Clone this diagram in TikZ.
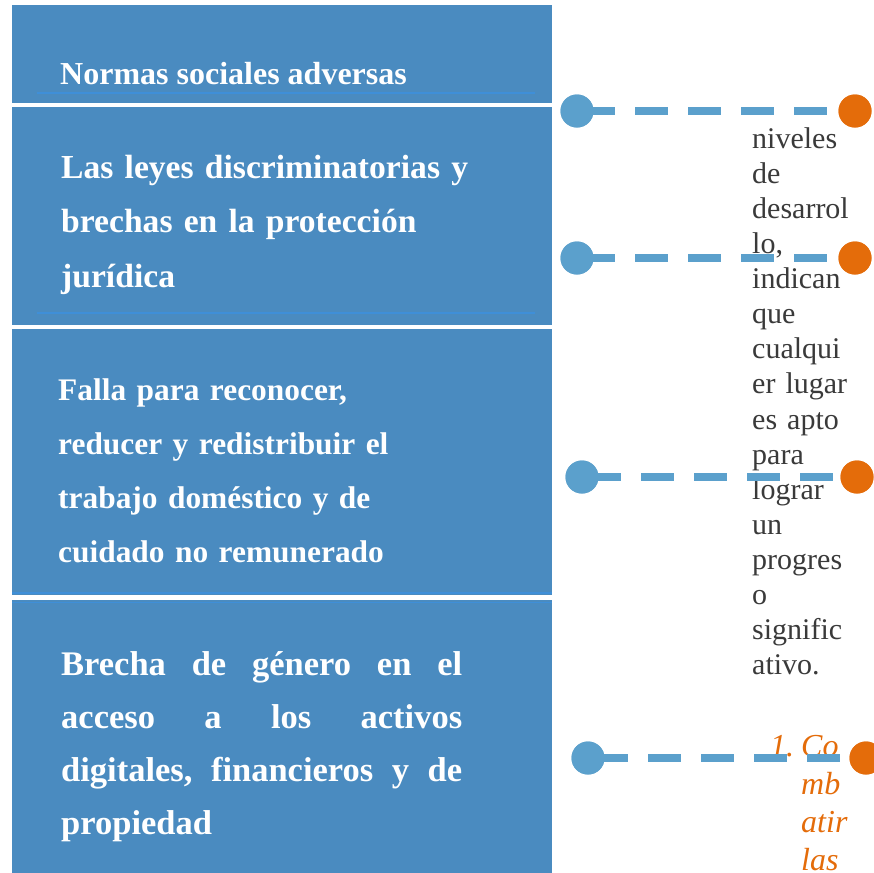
\documentclass[tikz,border=0pt]{standalone}
\usepackage{fontspec}
\setmainfont{Liberation Serif}
\newcommand{\jline}[1]{\leavevmode\hbox to 401pt{#1}}
\begin{document}
\begin{tikzpicture}[x=1pt,y=-1pt,
  boxblue/.style={fill=boxcol,draw=none,rectangle,anchor=north west,inner sep=0pt,minimum width=540pt},
  boxtext/.style={anchor=north west,inner sep=0pt,text=white,align=left},
  bluedot/.style={circle,fill=dotblue,draw=none,minimum size=33pt,inner sep=0pt},
  orangedot/.style={circle,fill=dotorange,draw=none,minimum size=33pt,inner sep=0pt},
  conn/.style={draw=dotblue,line width=8pt,dash pattern=on 33pt off 20pt},
  faint/.style={draw=faintcol,line width=1.2pt}]
\definecolor{boxcol}{HTML}{4A8BC0}
\definecolor{dotblue}{HTML}{5BA0CC}
\definecolor{dotorange}{HTML}{E46C0A}
\definecolor{graytext}{HTML}{3A3A3A}
\definecolor{faintcol}{HTML}{3F8FD8}
\useasboundingbox (0,0) rectangle (873,873);
\fill[white] (0,0) rectangle (873,873);
% boxes
\node[boxblue,minimum height=98pt] (b1) at (12,5) {};
\node[boxblue,minimum height=218pt] (b2) at (12,106.5) {};
\node[boxblue,minimum height=266.5pt] (b3) at (12,328.5) {};
\node[boxblue,minimum height=280pt] (b4) at (12,599.5) {};
\draw[faint] (37,93) -- (535,93);
\draw[faint] (37,313) -- (535,313);
\draw[faint] (12,593) -- (552,593);
\draw[faint] (12,602.5) -- (552,602.5);
% box texts
\node[anchor=base west,inner sep=0pt,text=white,font=\bfseries\fontsize{32}{54}\selectfont] (t1) at (60,84) {Normas sociales adversas};
\node[boxtext,text width=470pt,font=\bfseries\fontsize{33.6}{54.5}\selectfont] (t2) at (61,139.85) {\strut Las leyes discriminatorias y\\brechas en la protección\\jurídica};
\node[boxtext,text width=470pt,font=\bfseries\fontsize{31.4}{54}\selectfont] (t3) at (58,362.2) {\strut Falla para reconocer,\\reducer y redistribuir el\\trabajo doméstico y de\\cuidado no remunerado};
\node[boxtext,text width=402pt,font=\bfseries\fontsize{34.5}{53}\selectfont] (t4) at (61,637.9) {\leavevmode\strut\jline{Brecha\hfill de\hfill género\hfill en\hfill el}\\\jline{acceso\hfill a\hfill los\hfill activos}\\\jline{digitales,\hfill financieros\hfill y\hfill de}\\propiedad};
% right text
\node[anchor=north west,inner sep=0pt,text=graytext,text width=120pt,align=left,font=\fontsize{30}{35.1}\selectfont] (rt) at (752,123.43) {\strut niveles\\de\\desarrol\\lo,\\indican\\que\\cualqui\\er lugar\\es apto\\para\\lograr\\un\\progres\\o\\signific\\ativo.};
\node[anchor=base west,inner sep=0pt,text=dotorange,font=\itshape\fontsize{32}{38}\selectfont] (on) at (770,756) {1.};
\node[anchor=north west,inner sep=0pt,text=dotorange,text width=80pt,align=left,font=\itshape\fontsize{32}{38}\selectfont] (ot) at (801,729.4) {\strut Co\\mb\\atir\\las};
% dots
\node[bluedot] (a1) at (577,111) {};
\node[bluedot] (a2) at (577,258) {};
\node[bluedot] (a3) at (582,477) {};
\node[bluedot] (a4) at (588,758) {};
\node[orangedot] (c1) at (855,111) {};
\node[orangedot] (c2) at (855,258) {};
\node[orangedot] (c3) at (857,477) {};
\node[orangedot] (c4) at (866,758) {};
% connectors
\draw[conn,dash phase=48pt] (a1.center) -- (c1.center);
\draw[conn,dash phase=48pt] (a2.center) -- (c2.center);
\draw[conn,dash phase=47pt] (a3.center) -- (c3.center);
\draw[conn,dash phase=46pt] (a4.center) -- (c4.center);
% redraw dots on top
\node[bluedot] at (a1) {};
\node[bluedot] at (a2) {};
\node[bluedot] at (a3) {};
\node[bluedot] at (a4) {};
\node[orangedot] at (c1) {};
\node[orangedot] at (c2) {};
\node[orangedot] at (c3) {};
\node[orangedot] at (c4) {};
\end{tikzpicture}
\end{document}
